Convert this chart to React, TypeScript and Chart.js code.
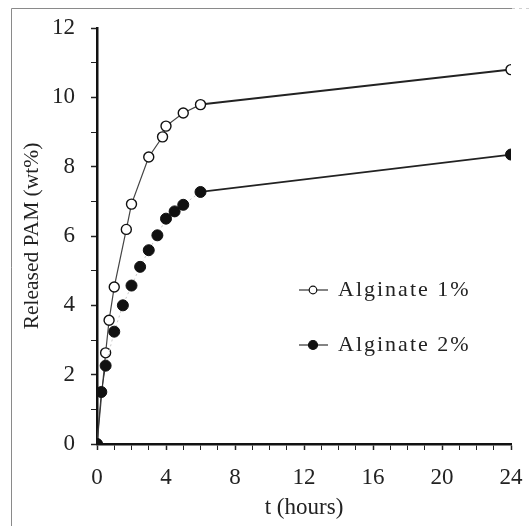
import React, { useEffect, useRef } from "react";
import { Chart, registerables } from "chart.js";

Chart.register(...registerables);

const seriesNames = ["Alginate 1%", "Alginate 2%"];
const tAlg1 = [0, 0.5, 0.7, 1, 1.7, 2, 3, 3.8, 4, 5, 6, 24];
const alg1 = [0, 2.63, 3.57, 4.53, 6.19, 6.92, 8.28, 8.86, 9.17, 9.55, 9.79, 10.8];
const tAlg2 = [0, 0.25, 0.5, 1, 1.5, 2, 2.5, 3, 3.5, 4, 4.5, 5, 6, 24];
const alg2 = [0, 1.5, 2.26, 3.24, 4.0, 4.57, 5.11, 5.59, 6.02, 6.5, 6.71, 6.9, 7.27, 8.35];
const xMajorTicks = [0, 4, 8, 12, 16, 20, 24];
const yMajorTicks = [0, 2, 4, 6, 8, 10, 12];
const xTitle = "t (hours)";
const yTitle = "Released PAM (wt%)";

const FONT = "'Liberation Serif', 'Times New Roman', serif";

const framePlugin = {
  id: "frame",
  beforeDraw(chart: any) {
    const ctx = chart.ctx;
    ctx.save();
    ctx.fillStyle = "#fff";
    ctx.fillRect(0, 0, chart.width, chart.height);
    ctx.strokeStyle = "#8a8a8a";
    ctx.lineWidth = 1;
    ctx.beginPath();
    ctx.moveTo(11.5, 8.5);
    ctx.lineTo(512, 8.5);
    ctx.moveTo(11.5, 8.5);
    ctx.lineTo(11.5, chart.height);
    ctx.stroke();
    ctx.strokeStyle = "#d0d0d0";
    ctx.setLineDash([3, 4]);
    ctx.beginPath();
    ctx.moveTo(512, 8.5);
    ctx.lineTo(chart.width, 8.5);
    ctx.stroke();
    ctx.restore();
  },
};

const legendPlugin = {
  id: "customLegend",
  afterDraw(chart: any) {
    const ctx = chart.ctx;
    const rows = [
      { name: seriesNames[0], filled: false, y: 290 },
      { name: seriesNames[1], filled: true, y: 345 },
    ];
    ctx.save();
    rows.forEach((r) => {
      ctx.strokeStyle = "#333";
      ctx.lineWidth = 1.2;
      ctx.beginPath();
      ctx.moveTo(299, r.y);
      ctx.lineTo(328, r.y);
      ctx.stroke();
      ctx.beginPath();
      ctx.arc(313, r.y, r.filled ? 4.5 : 3.8, 0, Math.PI * 2);
      ctx.fillStyle = r.filled ? "#111" : "#fff";
      ctx.fill();
      ctx.lineWidth = 1.2;
      ctx.strokeStyle = "#111";
      ctx.stroke();
      ctx.fillStyle = "#222";
      ctx.font = `22px ${FONT}`;
      (ctx as any).letterSpacing = "2px";
      ctx.textBaseline = "middle";
      ctx.textAlign = "left";
      ctx.fillText(r.name, 338, r.y);
      (ctx as any).letterSpacing = "0px";
    });
    ctx.restore();
  },
};

export default function App() {
  const ref = useRef<HTMLCanvasElement>(null);
  useEffect(() => {
    if (!ref.current) return;
    const chart = new Chart(ref.current, {
      type: "scatter",
      data: {
        datasets: [
          {
            label: seriesNames[1],
            data: tAlg2.map((t, i) => ({ x: t, y: alg2[i] })),
            showLine: true,
            order: 0,
            borderColor: "#222",
            borderWidth: 1.2,
            pointRadius: 5.5,
            pointBackgroundColor: "#111",
            pointBorderColor: "#111",
            pointBorderWidth: 1,
            segment: {
              borderColor: (c: any) =>
                c.p0.parsed.x >= 6 ? "#222" : c.p0.parsed.x >= 0.5 ? "#c8c8c8" : "#333",
              borderWidth: (c: any) => (c.p0.parsed.x >= 6 ? 1.8 : 1),
              borderDash: (c: any) => (c.p0.parsed.x >= 0.5 && c.p0.parsed.x < 6 ? [2, 3] : []),
            },
          },
          {
            label: seriesNames[0],
            data: tAlg1.map((t, i) => ({ x: t, y: alg1[i] })),
            showLine: true,
            order: 1,
            borderColor: "#333",
            borderWidth: 1.2,
            pointRadius: 5,
            pointBackgroundColor: "#fff",
            pointBorderColor: "#111",
            pointBorderWidth: 1.4,
            segment: {
              borderWidth: (c: any) => (c.p0.parsed.x >= 6 ? 2 : 1.2),
              borderColor: (c: any) => (c.p0.parsed.x >= 6 ? "#222" : "#444"),
            },
          },
        ],
      },
      options: {
        animation: false,
        responsive: true,
        maintainAspectRatio: false,
        layout: { padding: { left: 0, right: 18, top: 28, bottom: 0 } },
        plugins: { legend: { display: false }, tooltip: { enabled: false } },
        scales: {
          x: {
            type: "linear",
            min: 0,
            max: 24,
            afterFit: (s: any) => {
              s.height = 82;
              s.paddingRight = 0;
              s.paddingLeft = 0;
            },
            border: { display: true, color: "#111", width: 2.5 },
            grid: {
              drawOnChartArea: false,
              drawTicks: true,
              tickLength: 6,
              tickColor: "#222",
              tickWidth: (c: any) => (xMajorTicks.includes(c.tick?.value) ? 1.5 : 1),
            },
            ticks: {
              stepSize: 1,
              autoSkip: false,
              maxRotation: 0,
              padding: 14,
              color: "#222",
              font: { family: FONT, size: 23 },
              callback: (v: any) => (xMajorTicks.includes(Number(v)) ? String(v) : ""),
            },
            title: {
              display: true,
              text: xTitle,
              color: "#222",
              font: { family: FONT, size: 23 },
              padding: { top: 0, bottom: 4 },
            },
          },
          y: {
            type: "linear",
            min: 0,
            max: 12,
            afterFit: (s: any) => {
              s.width = 97;
              s.paddingTop = 0;
              s.paddingBottom = 0;
            },
            border: { display: true, color: "#111", width: 2.5 },
            grid: {
              drawOnChartArea: false,
              drawTicks: true,
              tickLength: 6,
              tickColor: "#222",
              tickWidth: (c: any) => (yMajorTicks.includes(c.tick?.value) ? 1.5 : 1),
            },
            ticks: {
              stepSize: 1,
              autoSkip: false,
              padding: 16,
              color: "#222",
              font: { family: FONT, size: 23 },
              callback: (v: any) => (yMajorTicks.includes(Number(v)) ? String(v) : ""),
            },
            title: {
              display: true,
              text: yTitle,
              color: "#222",
              font: { family: FONT, size: 21.5 },
              padding: { top: 19, bottom: 0 },
            },
          },
        },
      },
      plugins: [framePlugin, legendPlugin],
    });
    return () => chart.destroy();
  }, []);
  return (
    <div style={{ position: "fixed", left: 0, top: 0, width: 529, height: 526, background: "#fff" }}>
      <canvas ref={ref} />
    </div>
  );
}
